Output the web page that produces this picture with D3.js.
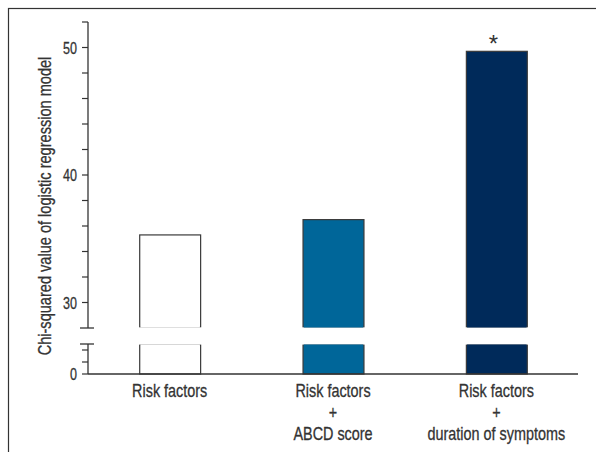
<!DOCTYPE html>
<html><head><meta charset="utf-8">
<script src="https://cdn.jsdelivr.net/npm/d3@7"></script>
<style>
html,body{margin:0;padding:0;background:#fff;}
svg{display:block;}
text{font-family:"Liberation Sans",Arial,sans-serif;fill:#333;stroke:#333;stroke-width:0.3;}
</style></head>
<body>
<svg id="chart" width="596" height="452"></svg>
<script>
const categories = [["Risk factors"], ["Risk factors", "+", "ABCD score"], ["Risk factors", "+", "duration of symptoms"]];
const values = [35.3, 36.5, 49.7];
const fills = ["#ffffff", "#006699", "#002a5a"];
const significant = [false, false, true];
const upperTicks = [30, 40, 50];
const upperMinor = [32, 34, 36, 38, 42, 44, 46, 48, 52];
const lowerTicks = [0];
const lowerMinor = [2, 4];
const yTitle = "Chi-squared value of logistic regression model";

const svg = d3.select("#chart");
svg.append("rect").attr("x", 8.5).attr("y", 8.5).attr("width", 620).attr("height", 480)
  .attr("fill", "none").attr("stroke", "#333").attr("stroke-width", 1.2);

const axisX = 88;
const x = d3.scaleBand().domain(d3.range(categories.length)).range([axisX, 578])
  .paddingInner(0.627).paddingOuter(0.3135);
const yU = d3.scaleLinear().domain([28, 52]).range([328, 22]);
const yL = d3.scaleLinear().domain([0, 5]).range([374, 344]);

const g = svg.append("g");
values.forEach((v, i) => {
  g.append("rect").attr("x", x(i) + 0.5).attr("width", x.bandwidth())
    .attr("y", yU(v)).attr("height", yU(28.1) - yU(v))
    .attr("fill", fills[i]).attr("stroke", "#3a3a3a").attr("stroke-width", 1.2);
  g.append("rect").attr("x", x(i) + 0.5).attr("width", x.bandwidth())
    .attr("y", yL(4.8)).attr("height", yL(0) - yL(4.8))
    .attr("fill", fills[i]).attr("stroke", "#3a3a3a").attr("stroke-width", 1.2);
  g.append("line").attr("x1", x(i) + 1.2).attr("x2", x(i) + x.bandwidth() - 0.2)
    .attr("y1", yU(28.1)).attr("y2", yU(28.1)).attr("stroke", fills[i]).attr("stroke-width", 1.4);
  g.append("line").attr("x1", x(i) + 1.2).attr("x2", x(i) + x.bandwidth() - 0.2)
    .attr("y1", yL(4.8)).attr("y2", yL(4.8)).attr("stroke", fills[i]).attr("stroke-width", 1.4);
  if (significant[i]) {
    svg.append("text").attr("transform", `translate(${x(i) + x.bandwidth() / 2 - 3},${yU(v) + 1})`)
      .attr("text-anchor", "middle").attr("font-size", 24).style("stroke-width", 0).text("*");
  }
});

function axisPart(scale, lo, hi, major, minor) {
  const a = svg.append("g").attr("transform", `translate(${axisX},0)`);
  a.append("line").attr("x1", 0).attr("x2", 0).attr("y1", scale(hi)).attr("y2", scale(lo))
    .attr("stroke", "#333").attr("stroke-width", 1.3);
  a.selectAll(".tk").data(major.concat(minor)).join("line")
    .attr("x1", -6).attr("x2", 0).attr("y1", d => scale(d)).attr("y2", d => scale(d))
    .attr("stroke", "#333").attr("stroke-width", 1.2);
  a.selectAll(".lb").data(major).join("text")
    .attr("transform", d => `translate(-11,${scale(d)})scale(0.74,1)`).attr("dy", "0.36em")
    .attr("text-anchor", "end").attr("font-size", 17).text(d => d);
  return a;
}
axisPart(yU, 28, 52, upperTicks, upperMinor);
axisPart(yL, 0, 5, lowerTicks, lowerMinor);
svg.append("line").attr("x1", axisX - 8).attr("x2", axisX + 6).attr("y1", yU(28)).attr("y2", yU(28))
  .attr("stroke", "#333").attr("stroke-width", 1.3);
svg.append("line").attr("x1", axisX - 8).attr("x2", axisX + 6).attr("y1", yL(5)).attr("y2", yL(5))
  .attr("stroke", "#333").attr("stroke-width", 1.3);

svg.append("line").attr("x1", axisX).attr("x2", 578).attr("y1", yL(0)).attr("y2", yL(0))
  .attr("stroke", "#333").attr("stroke-width", 1.3);
categories.forEach((lines, i) => {
  lines.forEach((ln, j) => {
    svg.append("text")
      .attr("transform", `translate(${x(i) + x.bandwidth() / 2},${397 + j * 21.7})scale(0.8,1)`)
      .attr("text-anchor", "middle").attr("font-size", 18).text(ln);
  });
});

svg.append("text").attr("transform", `translate(51,206)rotate(-90)scale(0.81,1)`)
  .attr("text-anchor", "middle").attr("font-size", 18).text(yTitle);
</script>
</body></html>
